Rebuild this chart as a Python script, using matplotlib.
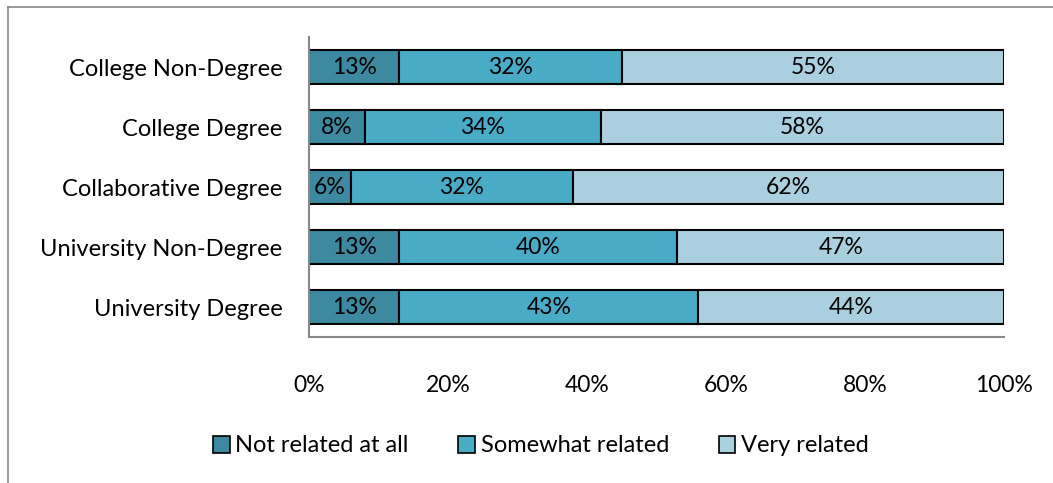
import matplotlib.pyplot as plt
from matplotlib.patches import Rectangle

categories = ["University Degree", "University Non-Degree", "Collaborative Degree",
              "College Degree", "College Non-Degree"]
not_related = [13, 13, 6, 8, 13]
somewhat_related = [43, 40, 32, 34, 32]
very_related = [44, 47, 62, 58, 55]
series_names = ["Not related at all", "Somewhat related", "Very related"]
colors = ["#3c89a0", "#4aabc6", "#aacfde"]
xticks = [0, 20, 40, 60, 80, 100]

plt.rcParams['font.family'] = ['Lato', 'DejaVu Sans']

W, H = 1053, 483
fig = plt.figure(figsize=(W / 100, H / 100), dpi=100)
ax = fig.add_axes([309 / W, 1 - 337 / H, (1004 - 309) / W, 300 / H])

series = [not_related, somewhat_related, very_related]
ypos = list(range(len(categories)))
left = [0] * len(categories)
for vals, name, col in zip(series, series_names, colors):
    bars = ax.barh(ypos, vals, left=left, height=0.58, color=col,
                   edgecolor="black", linewidth=1.5, label=name)
    for b, v in zip(bars, vals):
        ax.text(b.get_x() + b.get_width() / 2, b.get_y() + b.get_height() / 2,
                f"{v}%", ha="center", va="center", fontsize=16.5, color="black")
    left = [l + v for l, v in zip(left, vals)]

ax.set_xlim(0, 100)
ax.set_ylim(-0.5, len(categories) - 0.5)
ax.set_yticks(ypos)
ax.set_yticklabels(categories, fontsize=17)
ax.set_xticks(xticks)
ax.set_xticklabels([f"{t}%" for t in xticks], fontsize=16.5)
ax.tick_params(axis="both", length=0)
ax.tick_params(axis="y", pad=19)
ax.tick_params(axis="x", pad=27)
for s in ["top", "right"]:
    ax.spines[s].set_visible(False)
for s in ["left", "bottom"]:
    ax.spines[s].set_color("#888888")
    ax.spines[s].set_linewidth(1.5)

handles = [Rectangle((0, 0), 1, 1, facecolor=c, edgecolor="black", linewidth=1.2)
           for c in colors]
fig.legend(handles, series_names, loc="center", bbox_to_anchor=(541 / W, 1 - 446 / H),
           ncol=3, frameon=False, fontsize=17, handlelength=0.7, handleheight=0.7,
           handletextpad=0.25, columnspacing=2.1)

# chart frame
fig.add_artist(plt.Line2D([8 / W, 8 / W], [0, 1 - 7 / H], color="#888888",
                          linewidth=1.2, transform=fig.transFigure))
fig.add_artist(plt.Line2D([8 / W, 1], [1 - 7 / H, 1 - 7 / H], color="#888888",
                          linewidth=1.2, transform=fig.transFigure))

fig.savefig("out.png", dpi=100)
